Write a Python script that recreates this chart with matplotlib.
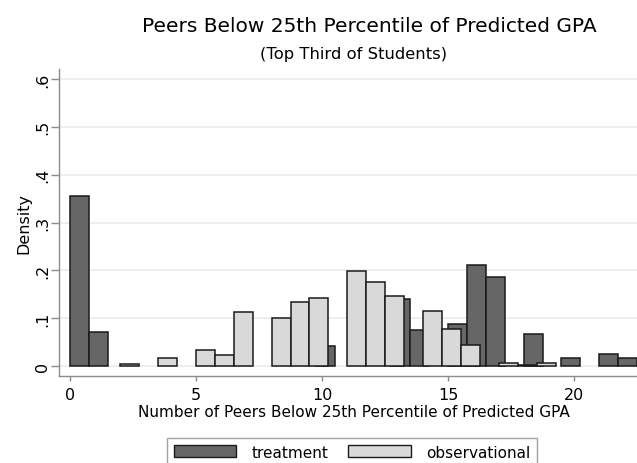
import numpy as np
import matplotlib
matplotlib.use("Agg")
import matplotlib.pyplot as plt
from matplotlib.patches import Patch

# histogram densities, treatment bins start at 0, width 0.75
treat_origin = 0.0
treat_width = 0.75
treat_density = [0.355, 0.072, 0, 0, 0, 0, 0, 0, 0, 0,
                 0, 0, 0, 0.042, 0, 0, 0, 0.140, 0.076, 0,
                 0.088, 0.212, 0.187, 0, 0.067, 0, 0.016, 0, 0.026, 0.017]

# observational bins start at 1.98, width 0.752
obs_origin = 1.98
obs_width = 0.752
obs_density = [0.004, 0, 0.016, 0, 0.033, 0.023, 0.112, 0, 0.100, 0.133,
               0.142, 0, 0.199, 0.175, 0.147, 0, 0.114, 0.077, 0.044, 0,
               0.007, 0.002, 0.007]

xticks = [0, 5, 10, 15, 20]
yticks = [0, 0.1, 0.2, 0.3, 0.4, 0.5, 0.6]
ytick_labels = ["0", ".1", ".2", ".3", ".4", ".5", ".6"]

dark = "#666666"
light = "#d9d9d9"
edge = "#1a1a1a"
axis_grey = "#8c8c8c"

plt.rcParams["font.family"] = "DejaVu Sans"

fig = plt.figure(figsize=(6.37, 4.64), dpi=100)
ax = fig.add_axes([59 / 637, 1 - 377 / 464, 1 - 59 / 637, (377 - 70) / 464])


def draw_hist(origin, width, dens, color):
    dens = np.asarray(dens, dtype=float)
    lefts = origin + width * np.arange(len(dens))
    keep = dens > 0
    ax.bar(lefts[keep], dens[keep], width=width, align="edge",
           color=color, edgecolor=edge, linewidth=1.1, zorder=3)


draw_hist(treat_origin, treat_width, treat_density, dark)
draw_hist(obs_origin, obs_width, obs_density, light)

ax.set_xlim(-0.44, 22.5)
ax.set_ylim(-0.021, 0.621)

ax.set_yticks(yticks)
ax.set_yticklabels(ytick_labels, rotation=90, va="center")
ax.set_xticks(xticks)
ax.tick_params(axis="both", colors=axis_grey, labelcolor="black",
               labelsize=11.5, width=1)
ax.tick_params(axis="y", length=5.8, pad=0.5)
ax.tick_params(axis="x", length=3.6, pad=4.5)

for s in ["top", "right"]:
    ax.spines[s].set_visible(False)
for s in ["left", "bottom"]:
    ax.spines[s].set_color(axis_grey)
    ax.spines[s].set_linewidth(1)

ax.yaxis.grid(True, color="#ebebeb", linewidth=1.2, zorder=0)
ax.set_axisbelow(True)

ax.set_ylabel("Density", fontsize=11.5)
ax.yaxis.set_label_coords(-0.047, 0.5)
ax.set_xlabel("Number of Peers Below 25th Percentile of Predicted GPA",
              fontsize=11)
ax.xaxis.set_label_coords(0.51, -0.09)

fig.text(369 / 637, 1 - 26 / 464, "Peers Below 25th Percentile of Predicted GPA",
         ha="center", va="center", fontsize=14.5)
fig.text(354 / 637, 1 - 55 / 464, "(Top Third of Students)",
         ha="center", va="center", fontsize=11.8)

handles = [Patch(facecolor=dark, edgecolor=edge, linewidth=1, label="treatment"),
           Patch(facecolor=light, edgecolor=edge, linewidth=1, label="observational")]
fig.legend(handles=handles, loc="upper center", ncol=2,
           bbox_to_anchor=(352 / 637, 1 - 431 / 464), fontsize=11,
           frameon=True, fancybox=False, edgecolor=axis_grey,
           handlelength=4.1, handleheight=0.85, columnspacing=1.3,
           handletextpad=1.0, borderpad=0.45)

fig.savefig("out.png", dpi=100)
